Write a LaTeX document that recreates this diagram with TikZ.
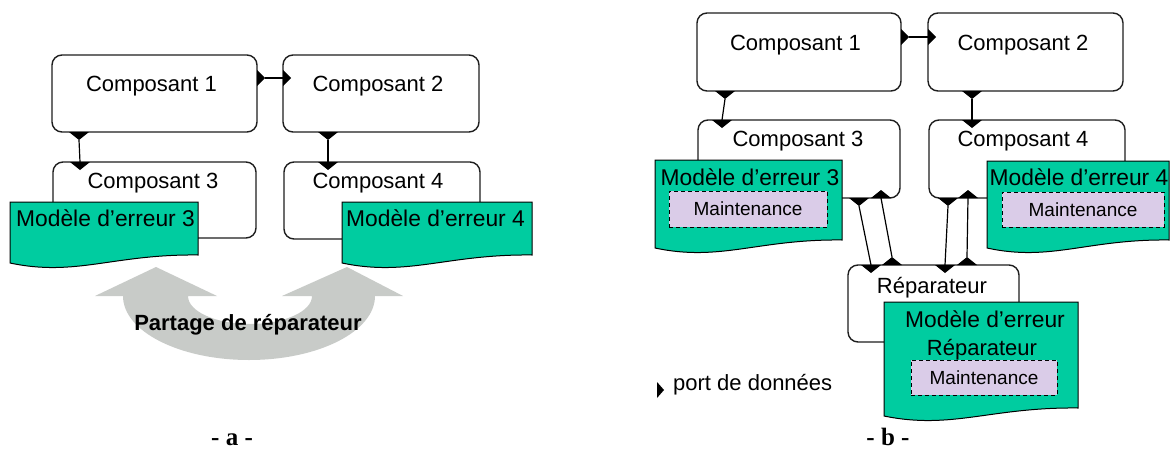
\documentclass[tikz,border=0pt]{standalone}
\usepackage{fontspec}
\setmainfont{Liberation Sans}
\newfontfamily\capfont{Liberation Serif}
\usetikzlibrary{calc}

\definecolor{modelfill}{RGB}{0,204,160}
\definecolor{maintfill}{RGB}{218,204,232}
\definecolor{arrowgrey}{RGB}{200,203,200}
\definecolor{boxline}{RGB}{30,30,30}

\tikzset{
  compbox/.style={draw=boxline, line width=1.4pt, rounded corners=10pt, fill=white, inner sep=0pt},
  lbl/.style={font=\fontsize{22}{26}\selectfont, inner sep=0pt, anchor=base},
  modlbl/.style={font=\fontsize{22.8}{27}\selectfont, inner sep=0pt, anchor=base},
  boldlbl/.style={font=\bfseries\fontsize{22}{26}\selectfont, inner sep=0pt, anchor=base},
  model/.style={draw=black, line width=1pt, fill=modelfill},
  maint/.style={draw=black, line width=1pt, dash pattern=on 4pt off 3pt, fill=maintfill,
                inner sep=0pt, font=\fontsize{19}{22}\selectfont},
  link/.style={draw=black, line width=1.2pt},
  port/.style={fill=black},
  caption/.style={font=\capfont\bfseries\fontsize{25}{29}\selectfont, inner sep=0pt, anchor=base},
}

% data port triangles, placed on a box edge point
\newcommand\pdown[1]{\fill[port] ($(#1)+(-10,0)$) -- ++(20,0) -- ++(-10,8) -- cycle;}
\newcommand\pup[1]{\fill[port] ($(#1)+(-10,0)$) -- ++(20,0) -- ++(-10,-8) -- cycle;}
\newcommand\pright[1]{\fill[port] ($(#1)+(0,-8)$) -- ++(0,16) -- ++(8,-8) -- cycle;}
% error model sheet: left, top, right, bottom-left
\newcommand\docsheet[4]{%
  \draw[model] (#1,#2) -- (#3,#2) -- (#3,#4-8)
    .. controls ({#3-0.45*(#3-#1)},#4-9) and ({#1+0.35*(#3-#1)},#4+14) .. (#1,#4) -- cycle;}

\begin{document}
\begin{tikzpicture}[x=1pt,y=-1pt]
\useasboundingbox (0,0) rectangle (1172,452);
\fill[white] (0,0) rectangle (1172,452);

% ---------------- (a) shared repairer ----------------
\node[compbox, minimum width=205pt, minimum height=77pt] (a1) at (154.5,93.5) {};
\node[compbox, minimum width=196pt, minimum height=77pt] (a2) at (381,93.5) {};
\node[compbox, minimum width=203pt, minimum height=76pt] (a3) at (154.5,200) {};
\node[compbox, minimum width=196pt, minimum height=77pt] (a4) at (382,200.5) {};
\node[lbl] (a1t) at (151.5,92) {Composant 1};
\node[lbl] (a2t) at (378,92) {Composant 2};
\node[lbl] (a3t) at (153,188) {Composant 3};
\node[lbl] (a4t) at (378,188) {Composant 4};

\coordinate (a1r) at (257,78);  \coordinate (a2l) at (283,78);
\coordinate (a1b) at (79,132);  \coordinate (a3n) at (80,162);
\coordinate (a2b) at (328,132); \coordinate (a4n) at (328,162);
\pright{a1r} \pright{a2l}
\pdown{a1b} \pdown{a3n}
\pdown{a2b} \pdown{a4n}
\draw[link] ($(a1r)+(8,0)$) -- (a2l);
\draw[link] ($(a1b)+(0,8)$) -- (a3n);
\draw[link] ($(a2b)+(0,8)$) -- (a4n);

% double grey arrow
\fill[arrowgrey] (95,296) -- (156,267) -- (217,296) -- (188,296)
  arc[start angle=180, end angle=0, x radius=62, y radius=28]
  -- (282,296) -- (347,267) -- (403,296) -- (375,296)
  arc[start angle=0, end angle=180, x radius=126, y radius=64] -- cycle;
\node[boldlbl] (share) at (248,330) {Partage de réparateur};

\docsheet{10}{202}{198}{263}
\docsheet{342}{202}{532}{263}
\node[modlbl, anchor=base west] (am3) at (16,226) {Modèle d’erreur 3};
\node[modlbl, anchor=base west] (am4) at (346,226) {Modèle d’erreur 4};

\node[caption] (capa) at (232,445) {- a -};

% ---------------- (b) explicit repairer ----------------
\node[compbox, minimum width=204pt, minimum height=78pt] (b1) at (799,52) {};
\node[compbox, minimum width=195pt, minimum height=78pt] (b2) at (1025.5,52) {};
\node[compbox, minimum width=202pt, minimum height=78pt] (b3) at (799,159) {};
\node[compbox, minimum width=196pt, minimum height=78pt] (b4) at (1027,159) {};
\node[compbox, minimum width=171pt, minimum height=77pt] (br) at (933.5,303.5) {};
\node[lbl] (b1t) at (795.5,50.5) {Composant 1};
\node[lbl] (b2t) at (1023,50.5) {Composant 2};
\node[lbl] (b3t) at (798,146.5) {Composant 3};
\node[lbl] (b4t) at (1023,146.5) {Composant 4};
\node[lbl] (brt) at (932,293) {Réparateur};

\coordinate (b1r) at (901,37);  \coordinate (b2l) at (928,37);
\coordinate (b1b) at (725,91);  \coordinate (b3n) at (722,120);
\coordinate (b2b) at (972,91);  \coordinate (b4n) at (972,120);
\coordinate (b3o) at (859,198); \coordinate (b3i) at (881,198);
\coordinate (b4o) at (948,198); \coordinate (b4i) at (968,198);
\coordinate (bri3) at (871,265); \coordinate (bro3) at (892,265);
\coordinate (bri4) at (945,265); \coordinate (bro4) at (967,265);
\pright{b1r} \pright{b2l}
\pdown{b1b} \pdown{b3n}
\pdown{b2b} \pdown{b4n}
\pdown{b3o} \pup{b3i}
\pdown{b4o} \pup{b4i}
\pdown{bri3} \pup{bro3}
\pdown{bri4} \pup{bro4}
\draw[link] ($(b1r)+(8,0)$) -- (b2l);
\draw[link] ($(b1b)+(0,8)$) -- (b3n);
\draw[link] ($(b2b)+(0,8)$) -- (b4n);
\draw[link] ($(b3o)+(0,8)$) -- (bri3);
\draw[link] ($(bro3)+(0,-8)$) -- (b3i);
\draw[link] ($(b4o)+(0,8)$) -- (bri4);
\draw[link] ($(bro4)+(0,-8)$) -- (b4i);

\docsheet{655}{160}{842}{248}
\docsheet{987}{161}{1169}{248}
\docsheet{884}{302}{1078}{416}
\node[modlbl] (bm3) at (750,185) {Modèle d’erreur 3};
\node[modlbl] (bm4) at (1079,185.5) {Modèle d’erreur 4};
\node[modlbl] (bmr1) at (985,327) {Modèle d’erreur};
\node[lbl] (bmr2) at (982,355) {Réparateur};
\node[maint, minimum width=158pt, minimum height=36pt] (mt3) at (748,209) {Maintenance};
\node[maint, minimum width=162pt, minimum height=35pt] (mt4) at (1083,209.5) {Maintenance};
\node[maint, minimum width=146pt, minimum height=35pt] (mtr) at (984,377.5) {Maintenance};

% legend
\coordinate (leg) at (657,390);
\fill[port] ($(leg)+(0,-8)$) -- ++(0,16) -- ++(7,-8) -- cycle;
\node[lbl, anchor=base west] (legt) at (673,390.5) {port de données};

\node[caption] (capb) at (888,445) {- b -};
\end{tikzpicture}
\end{document}
